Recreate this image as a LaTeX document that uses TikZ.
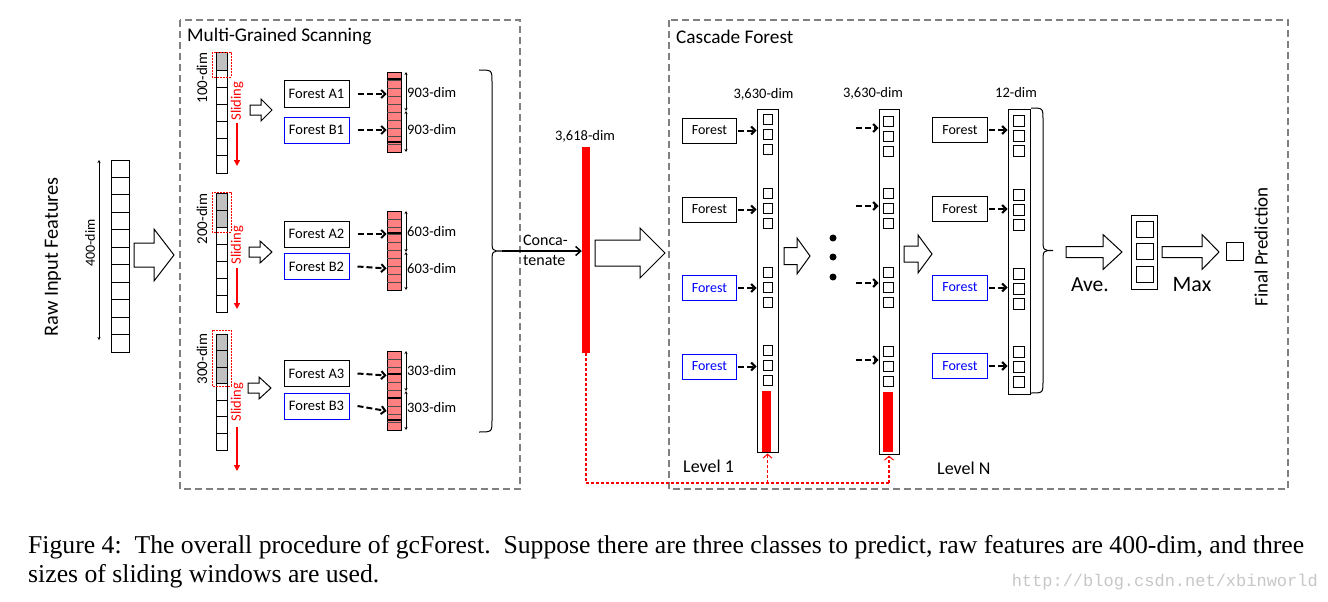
\documentclass[tikz,border=0pt]{standalone}
\usepackage{fontspec}
\setmainfont{Carlito}
\newfontfamily\capfont{Liberation Serif}
\newfontfamily\wmfont{Liberation Mono}
\usetikzlibrary{arrows.meta}
\definecolor{pinkc}{RGB}{255,128,128}
\definecolor{bordergray}{RGB}{128,128,128}
\definecolor{cellgray}{RGB}{192,192,192}
\definecolor{myblue}{RGB}{0,0,255}
\newcommand\fsz[1]{\fontsize{#1}{#1}\selectfont}
% block arrow: x1, x2(tip), xh(head start), yc, shaft half, head half
\newcommand\myblockarrow[6]{\draw[line width=1pt, fill=white] (#1,#4-#5) -- (#3,#4-#5) -- (#3,#4-#6) -- (#2,#4) -- (#3,#4+#6) -- (#3,#4+#5) -- (#1,#4+#5) -- cycle;}
% cell column: x1, x2, ytop, ybot, n, ngray
\newcommand\cellcol[6]{%
  \pgfmathsetmacro\cellh{(#4-#3)/#5}%
  \foreach \i in {1,...,#5}{%
    \pgfmathsetmacro\ya{#3+(\i-1)*\cellh}%
    \pgfmathsetmacro\yb{#3+\i*\cellh}%
    \ifnum\i>#6 \def\cfill{white}\else\def\cfill{cellgray}\fi
    \draw[line width=1pt, fill=\cfill] (#1,\ya) rectangle (#2,\yb);
  }}
% three small boxes: xc, yc, w, h, pitch
\newcommand\mytrio[5]{\foreach \j in {-1,0,1}{\draw[line width=1pt] (#1-#3/2,#2+\j*#5-#4/2) rectangle (#1+#3/2,#2+\j*#5+#4/2);}}
% right brace: x0, xm, x1, ytop, ybot
\newcommand\mybrace[5]{%
  \pgfmathsetmacro\ym{(#4+#5)/2}%
  \draw[line width=1pt] (#1,#4) .. controls (#2,#4) .. (#2,#4+12) -- (#2,\ym-12) .. controls (#2,\ym) .. (#3,\ym) .. controls (#2,\ym) .. (#2,\ym+12) -- (#2,#5-12) .. controls (#2,#5) .. (#1,#5);}
% pink bar lines: ytop, pitch
\newcommand\pinklines[2]{\foreach \k in {1,...,9}{\draw[line width=0.6pt, black!70] (387,#1+\k*#2) -- (401,#1+\k*#2);}}
\begin{document}
\begin{tikzpicture}[x=1pt,y=-1pt,
  txt/.style={inner sep=0pt, font=\fsz{14.5}},
  fbox/.style={draw, line width=1pt, minimum width=65pt, minimum height=26pt, inner sep=0pt, font=\fsz{14.5}},
  cfbox/.style={draw, line width=1pt, minimum width=54pt, minimum height=25pt, inner sep=0pt, font=\fsz{14}},
  bluebox/.style={draw=myblue},
  dasharrow/.style={line width=2pt, dash pattern=on 6pt off 3pt, -{Straight Barb[length=4pt,width=8pt]}},
  groupbox/.style={draw=bordergray, line width=2pt, dash pattern=on 7pt off 4pt},
  pinkbar/.style={draw, fill=pinkc, line width=0.8pt, minimum width=14pt, minimum height=80pt, inner sep=0pt},
  dimarrow/.style={line width=0.8pt, {Stealth[length=3pt,width=3pt]}-{Stealth[length=3pt,width=3pt]}},
  slidearrow/.style={red, line width=2pt, -{Triangle[length=6pt,width=6pt]}},
  window/.style={draw=red, line width=0.8pt, dash pattern=on 2pt off 1pt},
  column/.style={draw, line width=1pt, inner sep=0pt},
  fbline/.style={red, line width=1.1pt, dash pattern=on 3pt off 2pt},
  fbtip/.style={-{Straight Barb[length=4pt,width=9pt,line width=1pt]}},
  concat/.style={line width=1.5pt, -{Straight Barb[length=5pt,width=9pt]}}]
\useasboundingbox (0,0) rectangle (1328,602);
\fill[white] (0,0) rectangle (1328,602);

% ---------- raw input ----------
\node[rotate=90, inner sep=0pt, font=\fsz{20.3}] (raw) at (53,257) {Raw Input Features};
\cellcol{111}{129}{160}{352}{11}{0}
\node[column, minimum width=18pt, minimum height=192pt] (inp) at (120,256) {};
\coordinate (d4a) at (99,160); \coordinate (d4b) at (99,340);
\draw[dimarrow] (d4a) -- (d4b);
\node[rotate=90, txt, font=\fsz{14}] (d4l) at (90,243) {400-dim};
\myblockarrow{134}{174}{154}{255}{12}{26}

% ---------- Multi-Grained Scanning ----------
\draw[groupbox] (180,20) rectangle (520,489);
\node[anchor=west, inner sep=0pt, font=\fsz{19.3}] (mgs) at (187,36) {Multi-Grained Scanning};

% group 1
\cellcol{216}{227}{53}{173}{7}{1}
\draw[window] (212,52) rectangle (231,77);
\node[rotate=90, txt, font=\fsz{15}] (dim100) at (202,78) {100-dim};
\node[rotate=90, txt, text=red] (sl1) at (237,101) {Sliding};
\coordinate (s1a) at (237,123); \coordinate (s1b) at (237,166);
\draw[slidearrow] (s1a) -- (s1b);
\myblockarrow{250}{272}{261}{110}{5}{11}
\node[fbox] (A1) at (316.5,94) {Forest A1};
\node[fbox, bluebox] (B1) at (316.5,130) {Forest B1};
\node[pinkbar] (pb1) at (394,112) {};
\pinklines{72}{8}
\draw[line width=2pt] (387,79) -- (401,79);
\draw[line width=2pt] (387,142) -- (401,142);
\draw[dasharrow] ([xshift=8pt]A1.east) -- (A1.east -| pb1.west);
\draw[dasharrow] ([xshift=8pt]B1.east) -- (B1.east -| pb1.west);
\coordinate (g1a) at (406,72); \coordinate (g1b) at (406,111); \coordinate (g1c) at (406,152);
\draw[dimarrow] (g1a) -- (g1b);
\draw[dimarrow] (g1b) -- (g1c);
\node[anchor=west, txt] (l903a) at (407,93) {903-dim};
\node[anchor=west, txt] (l903b) at (407,130) {903-dim};

% group 2
\cellcol{216}{227}{193}{312}{7}{2}
\draw[window] (212,192) rectangle (231,232);
\node[rotate=90, txt, font=\fsz{15}] (dim200) at (202,219) {200-dim};
\node[rotate=90, txt, text=red] (sl2) at (237,245) {Sliding};
\coordinate (s2a) at (237,268); \coordinate (s2b) at (237,309);
\draw[slidearrow] (s2a) -- (s2b);
\myblockarrow{249}{272}{260}{252}{5}{11}
\node[fbox] (A2) at (316.5,234) {Forest A2};
\node[fbox, bluebox] (B2) at (316.5,266.5) {Forest B2};
\node[pinkbar, minimum height=79pt] (pb2) at (394,250.5) {};
\pinklines{211}{7.9}
\draw[line width=2pt] (387,233) -- (401,233);
\draw[dasharrow] ([xshift=8pt]A2.east) -- (A2.east -| pb2.west);
\draw[dasharrow] ([xshift=8pt]B2.east) -- ([yshift=-2pt]B2.east -| pb2.west);
\coordinate (g2a) at (406,211); \coordinate (g2b) at (406,252); \coordinate (g2c) at (406,290);
\draw[dimarrow] (g2a) -- (g2b);
\draw[dimarrow] (g2b) -- (g2c);
\node[anchor=west, txt] (l603a) at (407,232) {603-dim};
\node[anchor=west, txt] (l603b) at (407,269) {603-dim};

% group 3
\cellcol{216}{227}{334}{450}{7}{3}
\draw[window] (212,330) rectangle (231,386);
\node[rotate=90, txt, font=\fsz{15}] (dim300) at (202,359) {300-dim};
\node[rotate=90, txt, text=red] (sl3) at (237,402) {Sliding};
\coordinate (s3a) at (237,427); \coordinate (s3b) at (237,471);
\draw[slidearrow] (s3a) -- (s3b);
\myblockarrow{248}{271}{259}{388}{5}{11}
\node[fbox] (A3) at (316.5,373.5) {Forest A3};
\node[fbox, bluebox] (B3) at (316.5,406) {Forest B3};
\node[pinkbar, minimum height=79pt] (pb3) at (394,390.5) {};
\pinklines{351}{7.9}
\draw[line width=2pt] (387,374) -- (401,374);
\draw[line width=2pt] (387,398) -- (401,398);
\draw[line width=2pt] (387,420) -- (401,420);
\draw[dasharrow] ([xshift=8pt]A3.east) -- ([yshift=-2pt]A3.east -| pb3.west);
\draw[dasharrow] ([xshift=8pt]B3.east) -- ([yshift=-5pt]B3.east -| pb3.west);
\coordinate (g3a) at (406,351); \coordinate (g3b) at (406,391); \coordinate (g3c) at (406,430);
\draw[dimarrow] (g3a) -- (g3b);
\draw[dimarrow] (g3b) -- (g3c);
\node[anchor=west, txt] (l303a) at (407,371) {303-dim};
\node[anchor=west, txt] (l303b) at (407,408) {303-dim};

% brace and concatenation
\mybrace{479}{492}{502}{70}{432}
\coordinate (brtip) at (502,251);
\node[fill=red, minimum width=8pt, minimum height=206pt, inner sep=0pt] (rb) at (586,250) {};
\draw[concat] (brtip) -- (rb.west |- brtip);
\node[anchor=west, align=left, inner sep=0pt, font=\fontsize{16}{20}\selectfont] (conc) at (523,250) {Conca-\\tenate};
\node[txt] (d3618) at (585,136) {3,618-dim};
\myblockarrow{595}{665}{640}{253}{13}{25}

% ---------- Cascade Forest ----------
\draw[groupbox] (669,20) rectangle (1288,489);
\node[anchor=west, inner sep=0pt, font=\fsz{19.3}] (cfl) at (676,37) {Cascade Forest};

% level 1
\node[column, minimum width=21pt, minimum height=343pt] (L1) at (767.5,280.5) {};
\foreach \yc in {134,208,287,365}{\mytrio{767.5}{\yc}{9}{10}{15}}
\fill[red] (762,391) rectangle (771,452);
\node[txt] (d3630a) at (763.5,94) {3,630-dim};
\node[cfbox] (c1) at (709.5,130.5) {Forest};
\node[cfbox] (c2) at (709.5,209.5) {Forest};
\node[cfbox, bluebox, text=myblue] (c3) at (709.5,288) {Forest};
\node[cfbox, bluebox, text=myblue] (c4) at (709.5,366.5) {Forest};
\foreach \n in {c1,c2,c3,c4}{\draw[dasharrow] ([xshift=1pt]\n.east) -- (\n.east -| L1.west);}
\node[anchor=west, inner sep=0pt, font=\fsz{18}] (lv1) at (683,466) {Level 1};

\myblockarrow{784}{810}{797}{256}{8.5}{18}
\fill (833,238) circle (3.5);
\fill (833,257) circle (3.5);
\fill (833,277) circle (3.5);

% level N
\node[column, minimum width=20pt, minimum height=345pt] (LN) at (889,281.5) {};
\foreach \yc in {136,208,287,366}{\mytrio{888}{\yc}{10}{10}{15}}
\fill[red] (883,392) rectangle (893,452);
\node[txt] (d3630b) at (873,93) {3,630-dim};
\coordinate (n1) at (856,128);
\coordinate (n2) at (856,206);
\coordinate (n3) at (856,283);
\coordinate (n4) at (856,360);
\foreach \n in {n1,n2,n3,n4}{\draw[dasharrow] (\n) -- (\n -| LN.west);}
\node[anchor=west, inner sep=0pt, font=\fsz{18}] (lvN) at (937,468) {Level N};

\myblockarrow{904}{932}{918}{254}{8}{19}

% last level
\node[column, minimum width=22pt, minimum height=285pt] (LL) at (1019,251.5) {};
\foreach \yc in {135.5,209.5,288.5,366.5}{\mytrio{1018.5}{\yc}{11}{11}{15}}
\node[txt] (d12) at (1016,93) {12-dim};
\node[cfbox, minimum width=55pt] (r1) at (960,130) {Forest};
\node[cfbox, minimum width=55pt] (r2) at (960,209) {Forest};
\node[cfbox, minimum width=55pt, bluebox, text=myblue] (r3) at (960,287.5) {Forest};
\node[cfbox, minimum width=55pt, bluebox, text=myblue] (r4) at (960,366) {Forest};
\foreach \n in {r1,r2,r3,r4}{\draw[dasharrow] ([xshift=1pt]\n.east) -- (\n.east -| LL.west);}
\mybrace{1031}{1043}{1053}{108}{393}

\myblockarrow{1066}{1122}{1103}{252}{5.5}{17.5}
\node[inner sep=0pt, font=\fsz{21.5}] (ave) at (1090,285) {Ave.};
\node[column, minimum width=26pt, minimum height=74pt] (avg) at (1144,252) {};
\foreach \yy in {229,251.5,274}{\draw[line width=1pt] (1136,\yy-8) rectangle (1153,\yy+8);}
\myblockarrow{1162}{1219}{1202}{252}{5.5}{17.5}
\node[inner sep=0pt, font=\fsz{22}] (max) at (1192,285) {Max};
\node[draw, line width=1pt, minimum width=17pt, minimum height=18pt, inner sep=0pt] (fp) at (1234.5,251) {};
\node[rotate=90, inner sep=0pt, font=\fsz{19}] (fpl) at (1261,247) {Final Prediction};

% feedback (red dashed)
\coordinate (fbc) at (586,483);
\coordinate (fb1) at (L1.south |- fbc);
\coordinate (fbN) at (LN.south |- fbc);
\draw[fbline] (rb.south) -- (fbc) -- (fbN);
\draw[fbline, fbtip] (fb1) -- ([yshift=-1pt]L1.south);
\draw[fbline, fbtip] (fbN) -- ([yshift=-1pt]LN.south);

% ---------- caption ----------
\node[anchor=base west, inner sep=0pt, font=\capfont\fsz{25.7}] (cap1) at (28,553) {Figure 4:\ \ The overall procedure of gcForest.\ \ Suppose there are three classes to predict, raw features are 400-dim, and three};
\node[anchor=base west, inner sep=0pt, font=\capfont\fsz{25.7}] (cap2) at (28,582) {sizes of sliding windows are used.};
\node[anchor=base east, inner sep=0pt, text=black!22, font=\wmfont\fsz{17}] (wm) at (1318,586) {http://blog.csdn.net/xbinworld};
\end{tikzpicture}
\end{document}
